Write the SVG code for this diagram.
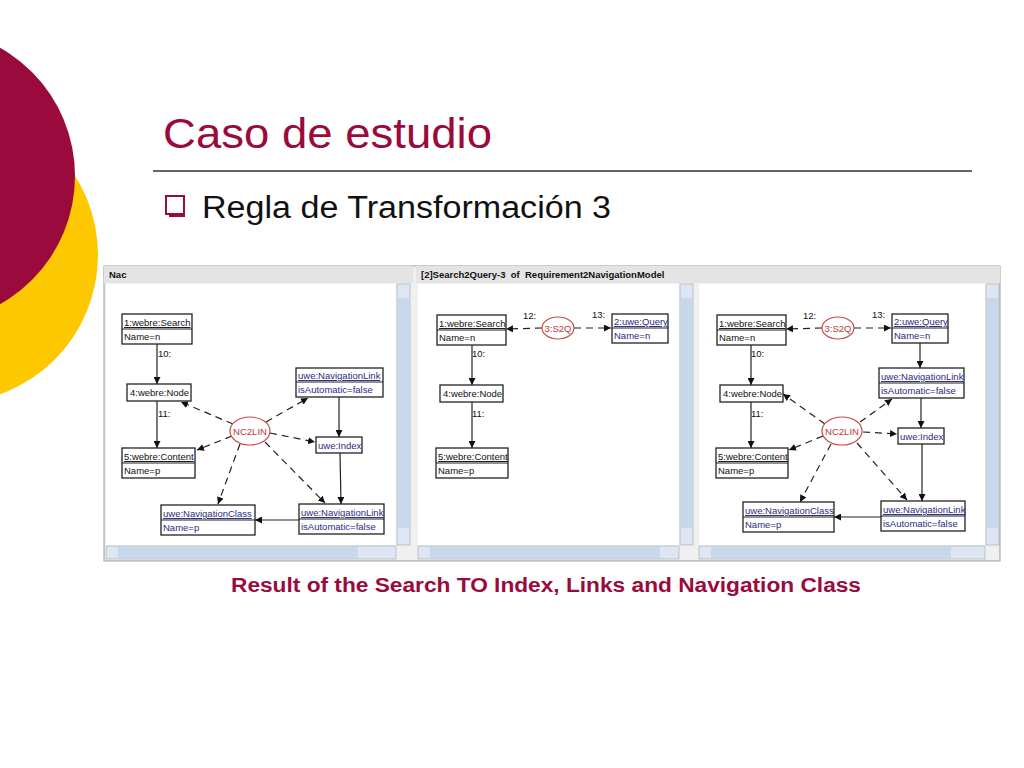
<svg xmlns="http://www.w3.org/2000/svg" width="1024" height="768" viewBox="0 0 1024 768">
<style>
.t{font-family:"Liberation Sans",Arial,sans-serif;font-size:9.5px}
.b{fill:#fff;stroke:#222;stroke-width:1.3}
.u{fill:#2a2a80}
.k{fill:#111}
.e{fill:#fff;stroke:#c84c4c;stroke-width:1.2}
.et{fill:#b83a3a;font-family:"Liberation Sans",Arial,sans-serif;font-size:9.5px;text-anchor:middle}
.s{stroke:#222;stroke-width:1.2;fill:none;marker-end:url(#a)}
.d{stroke:#222;stroke-width:1.2;fill:none;stroke-dasharray:7,5;marker-end:url(#a)}
.sb{fill:#dde6f2;stroke:#9aa;stroke-width:0.6}
</style>
<defs>
<marker id="a" viewBox="0 0 10 10" refX="10" refY="5" markerWidth="7" markerHeight="7" orient="auto" markerUnits="userSpaceOnUse"><path d="M0,0L10,5L0,10z" fill="#111"/></marker>
</defs>
<rect width="1024" height="768" fill="#fff"/>
<circle cx="-50" cy="255" r="148" fill="#fdc800"/>
<circle cx="-72" cy="176" r="147" fill="#9b0a3c"/>
<text x="163" y="148" font-family="Liberation Sans,Arial,sans-serif" font-size="43" fill="#9b0a3c" textLength="329" lengthAdjust="spacingAndGlyphs">Caso de estudio</text>
<line x1="153" y1="171" x2="972" y2="171" stroke="#333" stroke-width="1.5"/>
<rect x="166" y="196" width="18" height="18" fill="#fff" stroke="#9b0a3c" stroke-width="2"/>
<path d="M184,199v17h-15" stroke="#9b0a3c" stroke-width="2" fill="none"/>
<text x="202" y="218" font-family="Liberation Sans,Arial,sans-serif" font-size="31" fill="#111" textLength="409" lengthAdjust="spacingAndGlyphs">Regla de Transformación 3</text>
<g id="frame">
<rect x="104" y="266" width="896" height="295" fill="#f0f0f0" stroke="#999"/>
<rect x="104" y="266" width="309" height="17" fill="#e4e4e4"/>
<rect x="416" y="266" width="584" height="17" fill="#e4e4e4"/>
<text x="109" y="278" class="t" font-weight="bold" fill="#111">Nac</text>
<text x="421" y="278" class="t" font-weight="bold" fill="#111" xml:space="preserve">[2]Search2Query-3  of  Requirement2NavigationModel</text>
<rect x="106" y="284" width="290" height="261" fill="#fff"/>
<rect x="418" y="284" width="261" height="261" fill="#fff"/>
<rect x="699" y="284" width="286" height="261" fill="#fff"/>
<rect x="397" y="284" width="13" height="261" class="sb"/><rect x="398" y="298" width="11" height="230" fill="#c8d8ec"/>
<rect x="680" y="284" width="13" height="261" class="sb"/><rect x="681" y="298" width="11" height="230" fill="#c8d8ec"/>
<rect x="986" y="284" width="13" height="261" class="sb"/><rect x="987" y="298" width="11" height="230" fill="#c8d8ec"/>
<rect x="106" y="546" width="290" height="13" class="sb"/><rect x="118" y="547" width="240" height="11" fill="#c8d8ec"/>
<rect x="418" y="546" width="261" height="13" class="sb"/><rect x="430" y="547" width="230" height="11" fill="#c8d8ec"/>
<rect x="699" y="546" width="286" height="13" class="sb"/><rect x="711" y="547" width="240" height="11" fill="#c8d8ec"/>
</g>
<g id="connectors">
<line x1="157" y1="344" x2="157" y2="384" class="s"/>
<line x1="157" y1="401" x2="157" y2="448" class="s"/>
<line x1="339" y1="397" x2="339" y2="437" class="s"/>
<line x1="340" y1="453" x2="341" y2="504" class="s"/>
<line x1="299" y1="520" x2="255" y2="520" class="s"/>
<line x1="233" y1="424" x2="181" y2="402" class="d"/>
<line x1="232" y1="436" x2="197" y2="450" class="d"/>
<line x1="266" y1="422" x2="308" y2="398" class="d"/>
<line x1="270" y1="433" x2="315" y2="442" class="d"/>
<line x1="265" y1="442" x2="325" y2="503" class="d"/>
<line x1="240" y1="444" x2="218" y2="504" class="d"/>
<line x1="472" y1="345" x2="472" y2="385" class="s"/>
<line x1="472" y1="402" x2="472" y2="448" class="s"/>
<line x1="542" y1="328" x2="506" y2="329" class="d"/>
<line x1="574" y1="328" x2="611" y2="328" class="d"/>
<line x1="751" y1="345" x2="751" y2="385" class="s"/>
<line x1="751" y1="402" x2="751" y2="448" class="s"/>
<line x1="822" y1="328" x2="786" y2="329" class="d"/>
<line x1="854" y1="328" x2="891" y2="328" class="d"/>
<line x1="920" y1="343" x2="920" y2="368" class="s"/>
<line x1="921" y1="398" x2="921" y2="428" class="s"/>
<line x1="922" y1="444" x2="922" y2="501" class="s"/>
<line x1="881" y1="517" x2="834" y2="517" class="s"/>
<line x1="825" y1="424" x2="783" y2="394" class="d"/>
<line x1="823" y1="436" x2="789" y2="450" class="d"/>
<line x1="860" y1="422" x2="892" y2="399" class="d"/>
<line x1="863" y1="432" x2="897" y2="434" class="d"/>
<line x1="857" y1="443" x2="907" y2="500" class="d"/>
<line x1="831" y1="444" x2="800" y2="502" class="d"/>
</g>
<g class="t">
<text x="158" y="357" class="k">10:</text><text x="158" y="417" class="k">11:</text>
<text x="472" y="357" class="k">10:</text><text x="472" y="417" class="k">11:</text>
<text x="523" y="319" class="k">12:</text><text x="592" y="318" class="k">13:</text>
<text x="751" y="357" class="k">10:</text><text x="751" y="417" class="k">11:</text>
<text x="803" y="319" class="k">12:</text><text x="872" y="318" class="k">13:</text>
</g>
<g id="p1-search"><rect x="122" y="314" width="70" height="30" class="b"/><line x1="122" y1="329" x2="192" y2="329" stroke="#222"/><text x="124" y="326" class="t k" text-decoration="underline">1:webre:Search</text><text x="124" y="340" class="t k">Name=n</text></g>
<g id="p1-node"><rect x="127" y="384" width="64" height="17" class="b"/><text x="130" y="396" class="t k">4:webre:Node</text></g>
<g id="p1-content"><rect x="122" y="448" width="73" height="30" class="b"/><line x1="122" y1="463" x2="195" y2="463" stroke="#222"/><text x="124" y="460" class="t k" text-decoration="underline">5:webre:Content</text><text x="124" y="474" class="t k">Name=p</text></g>
<g id="p1-navlink1"><rect x="296" y="368" width="87" height="29" class="b"/><line x1="296" y1="382" x2="383" y2="382" stroke="#222"/><text x="298" y="379" class="t u" text-decoration="underline">uwe:NavigationLink</text><text x="298" y="393" class="t u">isAutomatic=false</text></g>
<g id="p1-index"><rect x="316" y="437" width="46" height="16" class="b"/><text x="318" y="449" class="t u">uwe:Index</text></g>
<g id="p1-navclass"><rect x="161" y="505" width="94" height="30" class="b"/><line x1="161" y1="520" x2="255" y2="520" stroke="#222"/><text x="163" y="517" class="t u" text-decoration="underline">uwe:NavigationClass</text><text x="163" y="531" class="t u">Name=p</text></g>
<g id="p1-navlink2"><rect x="299" y="504" width="85" height="30" class="b"/><line x1="299" y1="519" x2="384" y2="519" stroke="#222"/><text x="301" y="516" class="t u" text-decoration="underline">uwe:NavigationLink</text><text x="301" y="530" class="t u">isAutomatic=false</text></g>
<g id="p1-nc2lin"><ellipse cx="250" cy="431" rx="20" ry="14" class="e"/><text x="250" y="435" class="et">NC2LIN</text></g>
<g id="p2-search"><rect x="437" y="315" width="69" height="30" class="b"/><line x1="437" y1="330" x2="506" y2="330" stroke="#222"/><text x="439" y="327" class="t k" text-decoration="underline">1:webre:Search</text><text x="439" y="341" class="t k">Name=n</text></g>
<g id="p2-s2q"><ellipse cx="558" cy="328" rx="16" ry="11" class="e"/><text x="558" y="332" class="et">3:S2Q</text></g>
<g id="p2-query"><rect x="612" y="314" width="56" height="29" class="b"/><line x1="612" y1="328" x2="668" y2="328" stroke="#222"/><text x="614" y="325" class="t u" text-decoration="underline">2:uwe:Query</text><text x="614" y="339" class="t u">Name=n</text></g>
<g id="p2-node"><rect x="440" y="385" width="63" height="17" class="b"/><text x="443" y="397" class="t k">4:webre:Node</text></g>
<g id="p2-content"><rect x="436" y="448" width="72" height="30" class="b"/><line x1="436" y1="463" x2="508" y2="463" stroke="#222"/><text x="438" y="460" class="t k" text-decoration="underline">5:webre:Content</text><text x="438" y="474" class="t k">Name=p</text></g>
<g id="p3-search"><rect x="717" y="315" width="69" height="30" class="b"/><line x1="717" y1="330" x2="786" y2="330" stroke="#222"/><text x="719" y="327" class="t k" text-decoration="underline">1:webre:Search</text><text x="719" y="341" class="t k">Name=n</text></g>
<g id="p3-s2q"><ellipse cx="838" cy="328" rx="16" ry="11" class="e"/><text x="838" y="332" class="et">3:S2Q</text></g>
<g id="p3-query"><rect x="892" y="314" width="56" height="29" class="b"/><line x1="892" y1="328" x2="948" y2="328" stroke="#222"/><text x="894" y="325" class="t u" text-decoration="underline">2:uwe:Query</text><text x="894" y="339" class="t u">Name=n</text></g>
<g id="p3-navlink1"><rect x="879" y="368" width="85" height="30" class="b"/><line x1="879" y1="383" x2="964" y2="383" stroke="#222"/><text x="881" y="380" class="t u" text-decoration="underline">uwe:NavigationLink</text><text x="881" y="394" class="t u">isAutomatic=false</text></g>
<g id="p3-node"><rect x="720" y="385" width="63" height="17" class="b"/><text x="723" y="397" class="t k">4:webre:Node</text></g>
<g id="p3-index"><rect x="898" y="428" width="46" height="16" class="b"/><text x="900" y="440" class="t u">uwe:Index</text></g>
<g id="p3-nc2lin"><ellipse cx="842" cy="431" rx="20" ry="14" class="e"/><text x="842" y="435" class="et">NC2LIN</text></g>
<g id="p3-content"><rect x="716" y="448" width="72" height="30" class="b"/><line x1="716" y1="463" x2="788" y2="463" stroke="#222"/><text x="718" y="460" class="t k" text-decoration="underline">5:webre:Content</text><text x="718" y="474" class="t k">Name=p</text></g>
<g id="p3-navclass"><rect x="743" y="502" width="91" height="30" class="b"/><line x1="743" y1="517" x2="834" y2="517" stroke="#222"/><text x="745" y="514" class="t u" text-decoration="underline">uwe:NavigationClass</text><text x="745" y="528" class="t u">Name=p</text></g>
<g id="p3-navlink2"><rect x="881" y="501" width="84" height="30" class="b"/><line x1="881" y1="516" x2="965" y2="516" stroke="#222"/><text x="883" y="513" class="t u" text-decoration="underline">uwe:NavigationLink</text><text x="883" y="527" class="t u">isAutomatic=false</text></g>
<text x="546" y="592" text-anchor="middle" font-family="Liberation Sans,Arial,sans-serif" font-size="20" font-weight="bold" fill="#9b0a3c" textLength="630" lengthAdjust="spacingAndGlyphs">Result of the Search TO Index, Links and Navigation Class</text>
</svg>
